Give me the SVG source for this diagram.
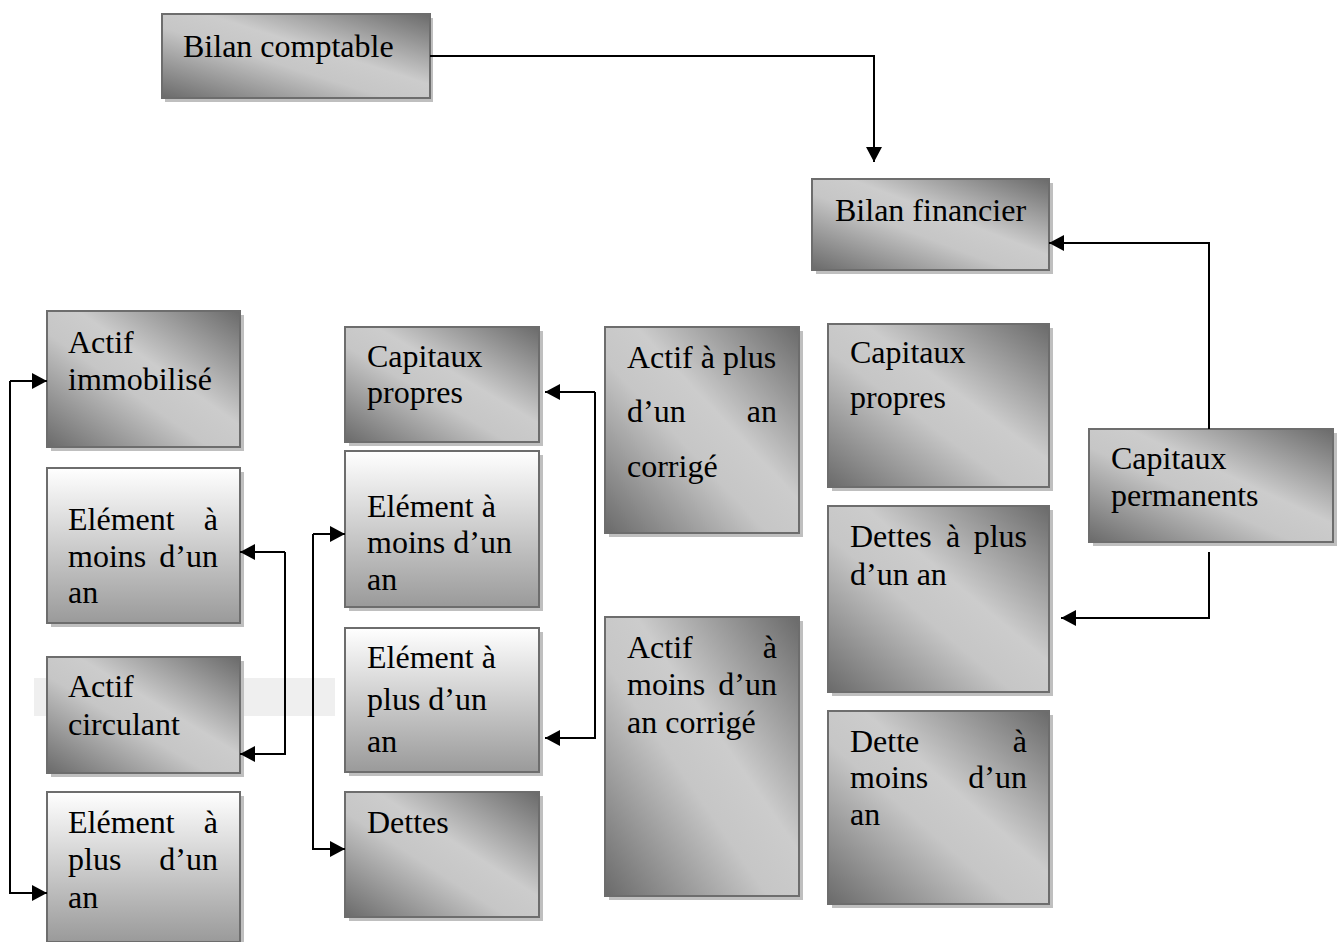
<svg xmlns="http://www.w3.org/2000/svg" width="1341" height="942" viewBox="0 0 1341 942">
<style>
.sh{fill:#bfbfbf}
.bx{stroke:#6d6d6d;stroke-width:2}
.a{fill:url(#gA)}
.b{fill:url(#gB)}
text{font-family:"Liberation Serif","Times New Roman",serif;font-size:32px;fill:#000}
.e{text-anchor:end}
.c{fill:none;stroke:#000;stroke-width:2}
</style>
<defs>
<linearGradient id="gA" x1="0" y1="1" x2="1" y2="0">
<stop offset="0" stop-color="#6a6a6a"/>
<stop offset="0.42" stop-color="#c6c6c6"/>
<stop offset="0.58" stop-color="#cccccc"/>
<stop offset="1" stop-color="#6a6a6a"/>
</linearGradient>
<linearGradient id="gB" x1="0" y1="0" x2="0" y2="1">
<stop offset="0" stop-color="#ffffff"/>
<stop offset="1" stop-color="#9a9a9a"/>
</linearGradient>
<marker id="ar" markerUnits="userSpaceOnUse" markerWidth="15" markerHeight="16" refX="15" refY="8" orient="auto">
<path d="M0,0 L15,8 L0,16 z" fill="#000"/>
</marker>
</defs>
<rect width="1341" height="942" fill="#fff"/>
<rect x="34" y="678" width="301" height="38" fill="#efefef"/>

<g id="bilan-comptable">
<rect class="sh" x="165" y="18" width="268" height="84"/>
<rect class="bx a" x="162" y="14" width="268" height="84"/>
<text x="183" y="57">Bilan comptable</text>
</g>
<g id="bilan-financier">
<rect class="sh" x="816" y="183" width="237" height="91"/>
<rect class="bx a" x="812" y="179" width="237" height="91"/>
<text x="835" y="221">Bilan financier</text>
</g>

<g id="actif-immobilise">
<rect class="sh" x="51" y="315" width="193" height="136"/>
<rect class="bx a" x="47" y="311" width="193" height="136"/>
<text x="68" y="353">Actif</text>
<text x="68" y="390">immobilisé</text>
</g>
<g id="element-moins-gauche">
<rect class="sh" x="51" y="472" width="193" height="155"/>
<rect class="bx b" x="47" y="468" width="193" height="155"/>
<text x="68" y="530">Elément</text><text class="e" x="218" y="530">à</text>
<text x="68" y="567">moins</text><text class="e" x="218" y="567">d’un</text>
<text x="68" y="603">an</text>
</g>
<g id="actif-circulant">
<rect class="sh" x="51" y="661" width="193" height="116"/>
<rect class="bx a" x="47" y="657" width="193" height="116"/>
<text x="68" y="697">Actif</text>
<text x="68" y="735">circulant</text>
</g>
<g id="element-plus-gauche">
<rect class="sh" x="51" y="796" width="193" height="150"/>
<rect class="bx b" x="47" y="792" width="193" height="150"/>
<text x="68" y="833">Elément</text><text class="e" x="218" y="833">à</text>
<text x="68" y="870">plus</text><text class="e" x="218" y="870">d’un</text>
<text x="68" y="908">an</text>
</g>

<g id="capitaux-propres-milieu">
<rect class="sh" x="349" y="331" width="194" height="115"/>
<rect class="bx a" x="345" y="327" width="194" height="115"/>
<text x="367" y="367">Capitaux</text>
<text x="367" y="403">propres</text>
</g>
<g id="element-moins-milieu">
<rect class="sh" x="349" y="455" width="194" height="156"/>
<rect class="bx b" x="345" y="451" width="194" height="156"/>
<text x="367" y="517">Elément à</text>
<text x="367" y="553">moins d’un</text>
<text x="367" y="590">an</text>
</g>
<g id="element-plus-milieu">
<rect class="sh" x="349" y="632" width="194" height="144"/>
<rect class="bx b" x="345" y="628" width="194" height="144"/>
<text x="367" y="668">Elément à</text>
<text x="367" y="710">plus d’un</text>
<text x="367" y="752">an</text>
</g>
<g id="dettes-milieu">
<rect class="sh" x="349" y="796" width="194" height="125"/>
<rect class="bx a" x="345" y="792" width="194" height="125"/>
<text x="367" y="833">Dettes</text>
</g>

<g id="actif-plus-corrige">
<rect class="sh" x="609" y="331" width="194" height="206"/>
<rect class="bx a" x="605" y="327" width="194" height="206"/>
<text x="627" y="368">Actif à plus</text>
<text x="627" y="422">d’un</text><text class="e" x="777" y="422">an</text>
<text x="627" y="477">corrigé</text>
</g>
<g id="actif-moins-corrige">
<rect class="sh" x="609" y="621" width="194" height="279"/>
<rect class="bx a" x="605" y="617" width="194" height="279"/>
<text x="627" y="658">Actif</text><text class="e" x="777" y="658">à</text>
<text x="627" y="695">moins</text><text class="e" x="777" y="695">d’un</text>
<text x="627" y="733">an corrigé</text>
</g>

<g id="capitaux-propres-droite">
<rect class="sh" x="832" y="328" width="221" height="163"/>
<rect class="bx a" x="828" y="324" width="221" height="163"/>
<text x="850" y="363">Capitaux</text>
<text x="850" y="408">propres</text>
</g>
<g id="dettes-plus">
<rect class="sh" x="832" y="510" width="221" height="186"/>
<rect class="bx a" x="828" y="506" width="221" height="186"/>
<text x="850" y="547">Dettes</text><text x="946" y="547">à</text><text class="e" x="1027" y="547">plus</text>
<text x="850" y="585">d’un an</text>
</g>
<g id="dette-moins">
<rect class="sh" x="832" y="715" width="221" height="193"/>
<rect class="bx a" x="828" y="711" width="221" height="193"/>
<text x="850" y="752">Dette</text><text class="e" x="1027" y="752">à</text>
<text x="850" y="788">moins</text><text class="e" x="1027" y="788">d’un</text>
<text x="850" y="825">an</text>
</g>
<g id="capitaux-permanents">
<rect class="sh" x="1093" y="433" width="244" height="113"/>
<rect class="bx a" x="1089" y="429" width="244" height="113"/>
<text x="1111" y="469">Capitaux</text>
<text x="1111" y="506">permanents</text>
</g>

<g id="connecteurs">
<path class="c" d="M430,56 H874 V162" marker-end="url(#ar)"/>
<path class="c" d="M1209,429 V243 H1049" marker-end="url(#ar)"/>
<path class="c" d="M1209,552 V618 H1061" marker-end="url(#ar)"/>
<path class="c" d="M10,381 V893 H47" marker-end="url(#ar)"/>
<path class="c" d="M10,381 H47" marker-end="url(#ar)"/>
<path class="c" d="M285,552 V754 H240" marker-end="url(#ar)"/>
<path class="c" d="M285,552 H240" marker-end="url(#ar)"/>
<path class="c" d="M313,534 V849 H345" marker-end="url(#ar)"/>
<path class="c" d="M313,534 H345" marker-end="url(#ar)"/>
<path class="c" d="M595,392 V738 H545" marker-end="url(#ar)"/>
<path class="c" d="M595,392 H545" marker-end="url(#ar)"/>
</g>
</svg>
